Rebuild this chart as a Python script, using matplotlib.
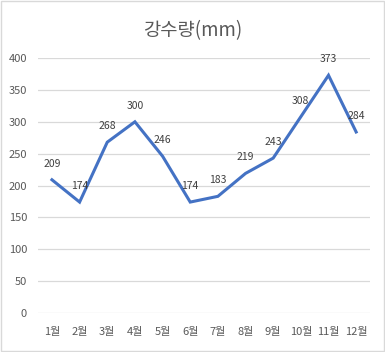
import matplotlib
matplotlib.use("Agg")
import matplotlib.pyplot as plt

plt.rcParams['font.family'] = ['Noto Sans CJK KR', 'DejaVu Sans']

months = ['1월', '2월', '3월', '4월', '5월', '6월', '7월', '8월', '9월', '10월', '11월', '12월']
rainfall = [209, 174, 268, 300, 246, 174, 183, 219, 243, 308, 373, 284]
yticks = [0, 50, 100, 150, 200, 250, 300, 350, 400]

fig = plt.figure(figsize=(3.85, 3.52), dpi=100)
fig.patch.set_facecolor('white')
# thin grey frame round the chart
fig.add_artist(plt.Rectangle((0.002, 0.002), 0.996, 0.994, transform=fig.transFigure,
                             fill=False, edgecolor='#d9d9d9', linewidth=1))

ax = fig.add_axes([0.099, 0.111, 0.862, 0.724])
x = list(range(len(months)))
ax.plot(x, rainfall, color='#4472C4', linewidth=2.2, solid_joinstyle='miter')

for xi, v in zip(x, rainfall):
    ax.annotate(str(v), (xi, v), xytext=(0, 8), textcoords='offset points',
                ha='center', va='bottom', fontsize=7.5, color='#404040')

ax.set_xlim(-0.5, len(months) - 0.5)
ax.set_ylim(0, 400)
ax.set_yticks(yticks)
ax.set_xticks(x)
ax.set_xticklabels(months)
ax.grid(axis='y', color='#d9d9d9', linewidth=0.9)
ax.set_axisbelow(True)
for s in ax.spines.values():
    s.set_visible(False)
ax.tick_params(length=0, labelsize=8, colors='#595959')
ax.tick_params(axis='y', pad=8)
ax.tick_params(axis='x', pad=10)

fig.text(0.5, 0.912, '강수량(mm)', ha='center', va='center', fontsize=13.5, color='#595959')

fig.savefig('out.png', dpi=100)
